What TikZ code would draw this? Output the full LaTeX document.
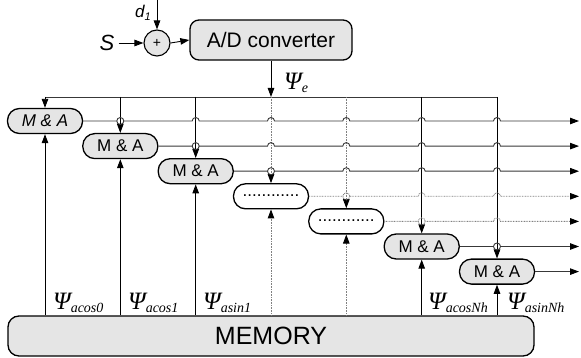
\documentclass[tikz,border=0pt]{standalone}
\usepackage{fontspec}
\setmainfont{Liberation Sans}
\newfontfamily\psifont{Liberation Serif}
\usetikzlibrary{positioning}
\usetikzlibrary{arrows.meta}
\usetikzlibrary{calc}
\definecolor{boxgray}{gray}{0.90}
\definecolor{linegray}{gray}{0.22}
\newcommand\psisub[2][14]{{\fontsize{25}{25}\selectfont Ψ}\raisebox{-3.5pt}{\fontsize{#1}{#1}\selectfont #2}}
\tikzset{
    mabox/.style = {rectangle, rounded corners=12pt, line width=1.3pt, draw=black, fill=boxgray, minimum width=75pt, minimum height=25pt, inner sep=0pt, font=\fontsize{17}{20}\selectfont},
    maboxi/.style = {mabox, font=\fontsize{17}{20}\selectfont\itshape},
    maboxw/.style = {mabox, fill=white},
    adbox/.style = {rectangle, rounded corners=9pt, line width=1.3pt, draw=black, fill=boxgray, minimum width=162pt, minimum height=40pt, inner sep=0pt, font=\fontsize{21}{24}\selectfont},
    membox/.style = {rectangle, rounded corners=11pt, line width=1.3pt, draw=black, fill=boxgray, minimum width=526pt, minimum height=40pt, inner sep=0pt, font=\fontsize{25}{28}\selectfont},
    sumnode/.style = {circle, line width=1.1pt, draw=black, fill=boxgray, minimum size=26pt, inner sep=0pt, font=\fontsize{14}{14}\selectfont},
    txtnode/.style = {inner sep=0pt, font=\fontsize{22}{22}\selectfont\itshape},
    psilabel/.style = {anchor=south west, inner sep=0pt, font=\psifont\itshape\fontsize{23}{23}\selectfont},
    tip/.style = {-{Triangle[length=9pt,width=6.5pt,color=black]}},
    vline/.style = {tip, line width=0.9pt, black},
    vdot/.style = {tip, line width=0.9pt, gray, dash pattern=on 0.8pt off 0.8pt},
    rowline/.style = {line width=0.9pt, linegray},
    rowdot/.style = {line width=0.9pt, gray, dash pattern=on 0.8pt off 0.8pt},
}

\begin{document}
\begin{tikzpicture}[x=1pt,y=-1pt]
\useasboundingbox (0,0) rectangle (581,358);

% input side
\node[txtnode] at (107,43) (s) {S};
\node[sumnode] at (157,43) (sum) {+};
\node[txtnode,font=\fontsize{17}{17}\selectfont\itshape] at (143,13) (d) {d\raisebox{-3pt}{\fontsize{11}{11}\selectfont 1}};
\coordinate (dtop) at (157,0);
\node[adbox] at (271,40) (ad) {A/D converter};
\draw[vline] (s.east) ++(4pt,0) -- (sum.west);
\draw[vline] (dtop) -- (sum.north);
\draw[vline] (sum.east) -- (ad.west);

% multiply and add stages
\node[maboxi] at ( 45.0,121.0) (m1) {M \& A};
\node[mabox]  at (120.3,146.1) (m2) {M \& A};
\node[mabox]  at (195.7,171.2) (m3) {M \& A};
\node[maboxw] at (271.0,196.3) (m4) {\raisebox{2pt}{............}};
\node[maboxw] at (346.3,221.4) (m5) {\raisebox{2pt}{............}};
\node[mabox]  at (421.7,246.5) (m6) {M \& A};
\node[mabox]  at (497.0,271.6) (m7) {M \& A};
\node[membox] at (271,336) (mem) {MEMORY};

% bus from the converter
\coordinate (bustop) at (0,97);
\foreach \k in {1,...,7}
    \coordinate (bus\k) at (m\k.north |- bustop);
\draw[rowline] (bus1) -- (bus7);
\draw[vline] (ad.south) -- (bus4);

% verticals: bus to stage, memory to stage
\foreach \k/\st in {1/vline,2/vline,3/vline,4/vdot,5/vdot,6/vline,7/vline} {
    \draw[\st] (bus\k) -- (m\k.north);
    \draw[\st] (m\k.south |- mem.north) -- (m\k.south);
}

% outputs, hopping over the verticals
\foreach \j/\st [evaluate=\j as \jn using int(\j+1)] in {1/rowline,2/rowline,3/rowline,4/rowdot,5/rowdot,6/rowline} {
    \coordinate (out\j) at (579,0 |- m\j.east);
    \draw[\st] (m\j.east) foreach \k in {\jn,...,7} {
        -- ($(m\k.north |- m\j.east)+(-3.5pt,0)$) arc[start angle=180, end angle=0, radius=3.5pt]
    } -- ($(out\j)+(-8pt,0)$);
    \draw[\st] ($(m\jn.north |- m\j.east)+(3.5pt,0)$) arc[start angle=0, end angle=-180, radius=3.5pt];
    \draw[tip, line width=0.9pt, linegray] ($(out\j)+(-9pt,0)$) -- (out\j);
}
\coordinate (out7) at (579,0 |- m7.east);
\draw[rowline,tip] (m7.east) -- (out7);

% labels
\node[psilabel] at (284,93) (le) {\psisub{e}};
\node[psilabel] at (53,313) (l1) {\psisub{acos0}};
\node[psilabel] at (128,313) (l2) {\psisub{acos1}};
\node[psilabel] at (203,313) (l3) {\psisub{asin1}};
\node[psilabel] at (428,313) (l6) {\psisub{acosNh}};
\node[psilabel] at (507,313) (l7) {\psisub{asinNh}};

\end{tikzpicture}
\end{document}
